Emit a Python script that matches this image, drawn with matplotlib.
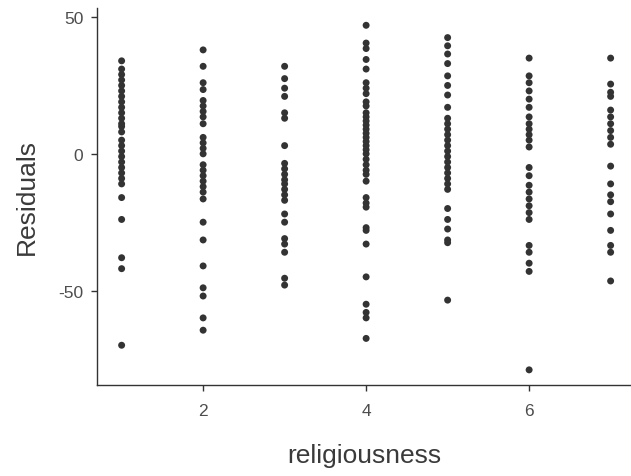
import matplotlib
matplotlib.use("Agg")
import matplotlib.pyplot as plt

plt.rcParams['font.family'] = ['Liberation Sans', 'DejaVu Sans']
plt.rcParams['axes.unicode_minus'] = False

# residuals, one list per religiousness level
res_1 = [34, 31, 29, 27, 25, 23, 21, 19, 17, 15, 13, 11, 10, 8, 5, 3, 1,
         -1, -3, -5, -7, -9, -11, -16, -24, -38, -42, -70]
res_2 = [38, 32, 26, 23.5, 19.5, 17.5, 15.5, 13.5, 11, 6, 4, 2, 0,
         -4, -6, -8, -10, -12, -14, -16.5, -25, -31.5, -41, -49, -52, -60, -64.5]
res_3 = [32, 27.5, 24, 21, 15, 13, 3, -3.5, -5.5, -7.5, -9.5, -11,
         -13, -15, -17, -22, -25, -31, -33, -36, -45.5, -48]
res_4 = [47, 40.5, 38.5, 34.5, 31, 26, 24, 22, 19, 17.5, 15, 13.5, 12,
         10.5, 9, 7.5, 6, 4.5, 3, 1.5, 0, -2, -4, -6, -7.5, -10,
         -16, -18, -19.5, -27, -28, -33, -45, -55, -58, -60, -67.5]
res_5 = [42.5, 39.5, 36.5, 33, 28.5, 25, 21.5, 17, 13, 11, 9, 7, 5, 3,
         1, -1, -3, -5, -7, -9, -11, -13, -20, -24, -27.5, -31.5, -32.5, -53.5]
res_6 = [35, 28.5, 26, 23, 20, 17, 13.5, 11, 9, 7, 5, 2.5, -5, -8, -11.5,
         -14, -16.5, -19, -21.5, -24, -33.5, -36, -40, -43, -79]
res_7 = [35, 25.5, 22.5, 21, 16, 13.5, 11, 8.5, 6, 3.5, -4.5, -11, -15,
         -17.5, -22, -28, -33.5, -36, -46.5]

levels = [1, 2, 3, 4, 5, 6, 7]
residuals = [res_1, res_2, res_3, res_4, res_5, res_6, res_7]

fig = plt.figure(figsize=(6.31, 4.77), dpi=100)
ax = fig.add_axes([0.154, 0.191, 0.846, 0.79])

for lvl, vals in zip(levels, residuals):
    ax.scatter([lvl] * len(vals), vals, s=25, color='#333333',
               edgecolors='none', zorder=3)

ax.set_xlim(0.7, 7.25)
ax.set_ylim(-84.5, 53.3)
ax.set_xticks([2, 4, 6])
ax.set_yticks([-50, 0, 50])

for side in ['top', 'right']:
    ax.spines[side].set_visible(False)
for side in ['left', 'bottom']:
    ax.spines[side].set_color('#333333')
    ax.spines[side].set_linewidth(1.0)

ax.tick_params(axis='both', colors='#333333', length=4, width=1,
               labelsize=12.5, labelcolor='#4D4D4D')
ax.tick_params(axis='x', pad=9)
ax.tick_params(axis='y', pad=6)
ax.set_xlabel('religiousness', fontsize=19, color='#3a3a3a', labelpad=18)
ax.set_ylabel('Residuals', fontsize=19, color='#3a3a3a', labelpad=14)

fig.savefig('out.png', dpi=100)
